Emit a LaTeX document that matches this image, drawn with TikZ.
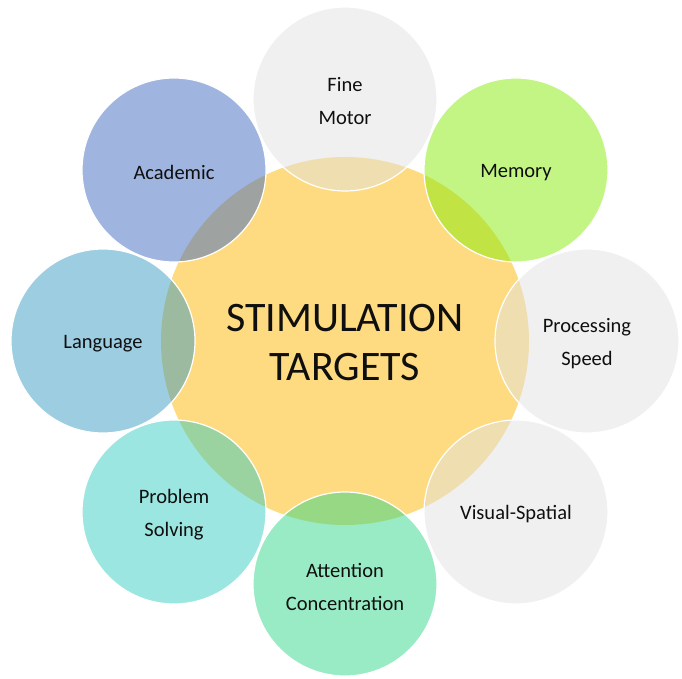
\documentclass[tikz,border=0pt]{standalone}
\usepackage{fontspec}
\setmainfont{Carlito}
\definecolor{centerY}{RGB}{254,219,128}
\definecolor{cAcad}{RGB}{63,107,193}
\definecolor{cMem}{RGB}{135,235,9}
\definecolor{cLang}{RGB}{59,155,193}
\definecolor{cProb}{RGB}{55,205,193}
\definecolor{cAtt}{RGB}{49,215,137}
\definecolor{cGrey}{RGB}{225,225,225}
\definecolor{txt}{RGB}{15,15,15}
\begin{document}
\begin{tikzpicture}[x=1pt,y=-1pt,
  hub/.style={circle,fill=centerY,minimum size=368pt,inner sep=0pt},
  hubtext/.style={align=center,text=txt,inner sep=0pt,font=\fontsize{42}{49}\selectfont},
  petal/.style={circle,draw=white,line width=1.2pt,fill=#1,fill opacity=0.5,minimum size=184pt,inner sep=0pt},
  petaltext/.style={align=center,text=txt,inner sep=0pt,yshift=-2.5pt,font=\fontsize{20.5}{33}\selectfont}]
\useasboundingbox (0,0) rectangle (682,679);
\node[hub] (hub) at (345,341) {};
\node[hubtext,yshift=-1.5pt] (hubT) at (hub.center) {STIMULATION\\TARGETS};
\node[petal=cGrey] (fine) at (345,99) {};
\node[petal=cMem] (mem) at (516,170) {};
\node[petal=cGrey] (proc) at (587,341) {};
\node[petal=cGrey] (vis) at (516,512) {};
\node[petal=cAtt] (att) at (345,584) {};
\node[petal=cProb] (prob) at (174,512) {};
\node[petal=cLang] (lang) at (103,341) {};
\node[petal=cAcad] (acad) at (174,170) {};
\node[petaltext] (fineT) at (fine.center) {Fine\\Motor};
\node[petaltext] (memT) at (mem.center) {Memory};
\node[petaltext] (procT) at (proc.center) {Processing\\Speed};
\node[petaltext] (visT) at (vis.center) {Visual-Spatial};
\node[petaltext] (attT) at (att.center) {Attention\\Concentration};
\node[petaltext] (probT) at (prob.center) {Problem\\Solving};
\node[petaltext] (langT) at (lang.center) {Language};
\node[petaltext] (acadT) at (acad.center) {Academic};
\end{tikzpicture}
\end{document}
